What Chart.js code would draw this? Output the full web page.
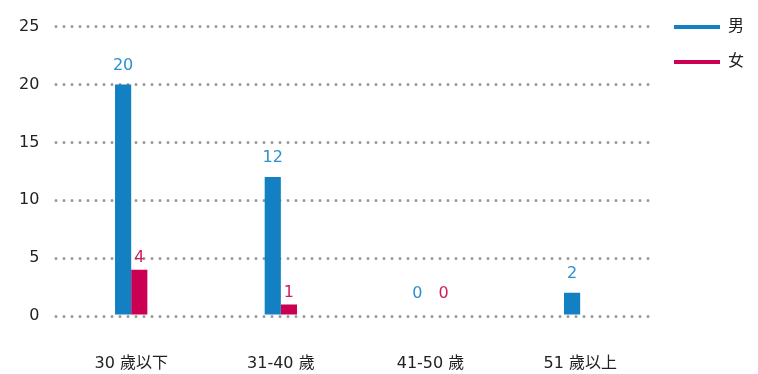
<!DOCTYPE html>
<html>
<head>
<meta charset="utf-8">
<script src="https://cdn.jsdelivr.net/npm/chart.js@4"></script>
<style>
  html, body { margin: 0; padding: 0; background: #fff; }
  #wrap { width: 758px; height: 374px; }
</style>
</head>
<body>
<div id="wrap"><canvas id="ageChart" width="758" height="374"></canvas></div>
<script>
//categories and values
const ageGroups = ['30 歲以下', '31-40 歲', '41-50 歲', '51 歲以上'];
const maleCounts = [20, 12, 0, 2];
const femaleCounts = [4, 1, 0, null];

const fontFamily = "'DejaVu Sans', 'Noto Sans CJK TC', sans-serif";

//round dots for the dashed grid lines
const roundCaps = {
    id: 'roundCaps',
    beforeDraw(chart) {
        chart.ctx.lineCap = 'round';
    }
};

//value labels above the bars
const valueLabels = {
    id: 'valueLabels',
    afterDatasetsDraw(chart) {
        const ctx = chart.ctx;
        ctx.save();
        ctx.font = '16px ' + fontFamily;
        ctx.textAlign = 'center';
        ctx.textBaseline = 'middle';
        chart.data.datasets.forEach(function(ds, i) {
            const meta = chart.getDatasetMeta(i);
            meta.data.forEach(function(bar, j) {
                const v = ds.data[j];
                if (v === null || v === undefined) return;
                let x = bar.x;
                let gap = ds.labelGap;
                if (v === 0) {
                    x += (i === 0 ? -5 : 5);
                    gap = 22;
                }
                ctx.fillStyle = ds.labelColor;
                ctx.fillText(String(v), x, bar.y - gap);
            });
        });
        ctx.restore();
    }
};

const ageConfig = {
    type: 'bar',
    data: {
        labels: ageGroups,
        datasets: [{
            label: '男',
            data: maleCounts,
            backgroundColor: '#1380c3',
            labelColor: '#2b8fd0',
            labelGap: 19,
            categoryPercentage: 0.216,
            barPercentage: 1
        },
        {
            label: '女',
            data: femaleCounts,
            backgroundColor: '#cc0052',
            labelColor: '#d01d60',
            labelGap: 12,
            categoryPercentage: 0.216,
            barPercentage: 1
        }]
    },
    options: {
        responsive: false,
        animation: false,
        layout: {
            padding: { top: 0, bottom: 0, left: 2, right: 4 }
        },
        scales: {
            x: {
                grid: { display: false, drawTicks: false },
                border: { display: false },
                ticks: {
                    color: '#222',
                    padding: 38,
                    font: { family: fontFamily, size: 16 }
                },
                afterFit(scale) {
                    scale.height = 58;
                }
            },
            y: {
                min: 0,
                max: 25,
                ticks: {
                    stepSize: 5,
                    color: '#222',
                    padding: 17,
                    font: { family: fontFamily, size: 16 }
                },
                grid: {
                    color: '#9a9a9a',
                    lineWidth: 3,
                    drawTicks: false
                },
                border: { display: false, dash: [0, 8] }
            }
        },
        plugins: {
            title: {
                display: true,
                text: '',
                fullSize: false,
                font: { size: 10, lineHeight: 1 },
                padding: { top: 0, bottom: 15 }
            },
            legend: {
                position: 'right',
                align: 'start',
                labels: {
                    boxWidth: 46,
                    boxHeight: 4,
                    padding: 19,
                    color: '#222',
                    font: { family: fontFamily, size: 16 }
                }
            },
            tooltip: { enabled: false }
        }
    },
    plugins: [roundCaps, valueLabels]
};

window.onload = function() {
    const ctx = document.getElementById('ageChart').getContext('2d');
    window.ageChart = new Chart(ctx, ageConfig);
};
</script>
</body>
</html>
